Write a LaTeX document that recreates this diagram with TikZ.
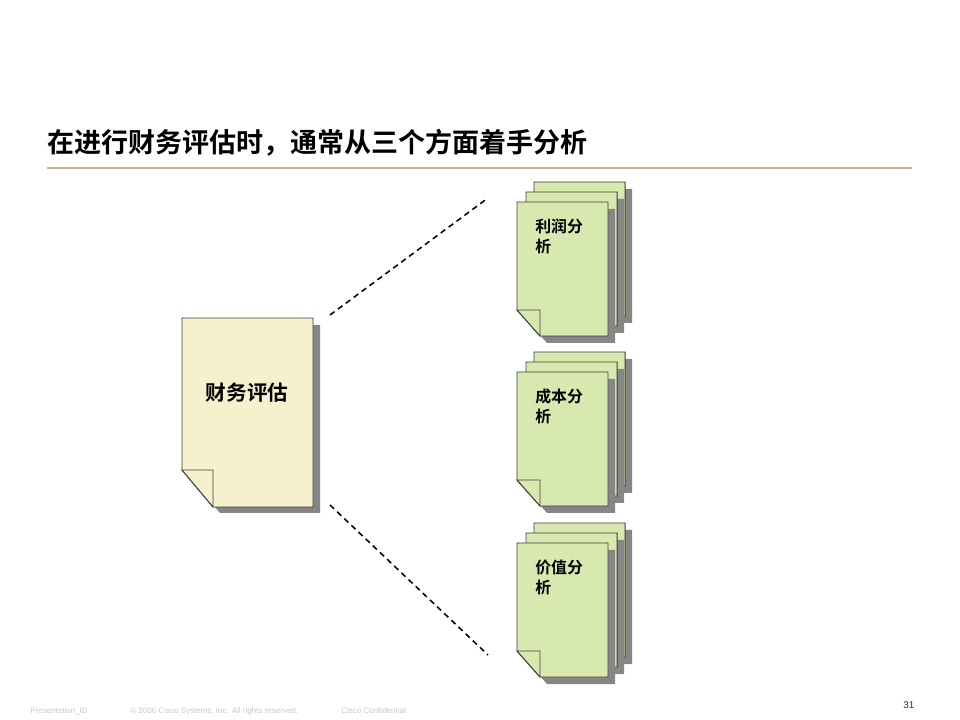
\documentclass[tikz,border=0pt]{standalone}
\usepackage{fontspec}
\setmainfont{Liberation Sans}
\newfontfamily\cjk{Noto Sans CJK SC}[BoldFont={Noto Sans CJK SC Bold}]
\usetikzlibrary{positioning}
\definecolor{paperyellow}{HTML}{F6F1CC}
\definecolor{papergreen}{HTML}{D8E9AF}
\definecolor{ruletan}{HTML}{C8B482}

\begin{document}
\begin{tikzpicture}[
  x=0.025cm, y=-0.025cm,
  page/.style={draw=black!75, line width=0.7pt},
  shadow/.style={fill=gray!95},
  mainlabel/.style={font=\cjk\bfseries\fontsize{14.7}{17}\selectfont, inner sep=0pt},
  pagelabel/.style={font=\cjk\bfseries\fontsize{11.3}{14.2}\selectfont, anchor=north west, align=left, inner sep=0pt},
  link/.style={line width=1.1pt, dash pattern=on 4pt off 3pt},
  footer/.style={font=\fontsize{5.7}{7}\selectfont, text=black!22, anchor=base west, inner sep=0pt}
]
\useasboundingbox (0,0) rectangle (960,720);

% Title and rule
\node[anchor=west, font=\cjk\bfseries\fontsize{19.2}{22}\selectfont, inner sep=0pt] (title) at (47,143)
  {在进行财务评估时，通常从三个方面着手分析};
\draw[ruletan, line width=0.8pt] (47,168) -- (912,168);

% Main document
\fill[shadow] (189,325) -- (320,325) -- (320,513) -- (220,513) -- (189,477) -- cycle;
\draw[page, fill=paperyellow] (182,318) -- (313,318) -- (313,507) -- (213,507) -- (182,470) -- cycle;
\draw[page, fill=paperyellow] (182,470) -- (213,470) -- (213,507) -- cycle;
\node[mainlabel] (main) at (247,393) {财务评估};

% Three stacks of pages
\foreach \t/\txt in {202/{利润分\\析}, 372/{成本分\\析}, 543/{价值分\\析}} {
  % pages behind, then the front one, all with a folded corner
  \foreach \dx/\dy in {17/-20, 9/-10, 0/0} {
    \fill[shadow] (524+\dx,\t+7+\dy) -- (615+\dx,\t+7+\dy) -- (615+\dx,\t+141+\dy)
      -- (547+\dx,\t+141+\dy) -- (524+\dx,\t+115+\dy) -- cycle;
    \draw[page, fill=papergreen] (517+\dx,\t+\dy) -- (608+\dx,\t+\dy) -- (608+\dx,\t+134+\dy)
      -- (540+\dx,\t+134+\dy) -- (517+\dx,\t+108+\dy) -- cycle;
    \draw[page, fill=papergreen] (517+\dx,\t+108+\dy) -- (540+\dx,\t+108+\dy) -- (540+\dx,\t+134+\dy) -- cycle;
  }
  \node[pagelabel] (label\t) at (535,\t+17) {\txt};
}

% Dashed links
\coordinate (maintop) at (330,315);
\coordinate (mainbot) at (330,505);
\coordinate (stacktop) at (488,198);
\coordinate (stackbot) at (488,655);
\draw[link] (maintop) -- (stacktop);
\draw[link] (mainbot) -- (stackbot);

% Footer
\node[footer] (pid) at (30,713) {Presentation\_ID};
\node[footer] (copy) at (130,713) {© 2006 Cisco Systems, Inc. All rights reserved.};
\node[footer] (conf) at (341,713) {Cisco Confidential};
\node[footer, text=black!80, font=\fontsize{7}{8}\selectfont] (pagenum) at (903,708) {31};

\end{tikzpicture}
\end{document}
